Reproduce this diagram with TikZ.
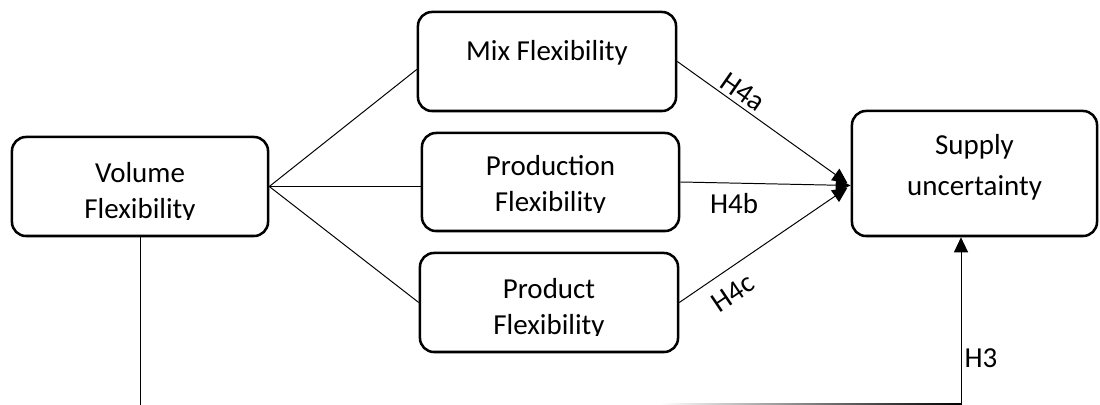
\documentclass[tikz,border=0pt]{standalone}
\usepackage{fontspec}
\setmainfont{Carlito}
\usetikzlibrary{arrows.meta,positioning}

\tikzset{
    box/.style={draw, line width=1.8pt, rounded corners=0.35cm,
        minimum width=6.45cm, minimum height=2.475cm},
    txt/.style={align=center, anchor=base, inner sep=0pt,
        font=\fontsize{20.6pt}{25.6pt}\selectfont},
    lbl/.style={inner sep=0pt, font=\fontsize{20.6pt}{25.6pt}\selectfont},
    link/.style={line width=0.7pt},
    arr/.style={link, -{Triangle[length=0.375cm, width=0.35cm]}}
}

\begin{document}
\begin{tikzpicture}[x=0.025cm, y=-0.025cm]
        \useasboundingbox (0,0) rectangle (1100,405);

        % the five constructs
        \node[box, minimum width=6.4cm] (vol) at (140,186.5) {};
        \node[box] (mix) at (547,61.5) {};
        \node[box, minimum width=6.425cm, minimum height=2.45cm] (prod) at (550.5,182) {};
        \node[box] (pdt) at (549,302.5) {};
        \node[box, minimum width=6.125cm, minimum height=3.125cm] (sup) at (974.5,173.5) {};

        % box texts (base = last line), lower lines cut off at the frame
        \begin{scope}
            \clip (12,137) rectangle (268,220);
            \node[txt] (voltxt) at (140,219) {Volume\\Flexibility};
        \end{scope}
        \node[txt] (mixtxt) at (547,61) {Mix Flexibility};
        \begin{scope}
            \clip (422,133) rectangle (679,213);
            \node[txt] (prodtxt) at (550.5,212) {Production\\Flexibility};
        \end{scope}
        \begin{scope}
            \clip (420,253) rectangle (678,336);
            \node[txt] (pdttxt) at (549,335) {Product\\Flexibility};
        \end{scope}
        \node[txt] (suptxt) at (974.5,196) {Supply\\[4pt]uncertainty};

        % volume flexibility to the three other flexibilities
        \draw[link] (vol.east) -- ([yshift=-0.2cm]mix.west);
        \draw[link] (vol.east) -- (vol.east -| prod.west);
        \draw[link] (vol.east) -- (pdt.west);

        % H4a-c into supply uncertainty
        \coordinate (hub) at ([yshift=-0.3cm]sup.west);
        \draw[arr, shorten >=0.1cm] (mix.east) -- (hub);
        \draw[arr] (prod.east) -- (hub);
        \draw[arr, shorten >=0.1cm] (pdt.east) -- (hub);

        \node[lbl, rotate=-35] (h4a) at (743,92) {H4a};
        \node[lbl] (h4b) at (734,204) {H4b};
        \node[lbl, rotate=34] (h4c) at (733,293) {H4c};

        % H3 runs along the bottom edge
        \coordinate (bend) at (961,405.8);
        \draw[arr] (vol.south) |- (bend) -- (bend |- sup.south);
        \shade[left color=white, right color=black] (660,403.4) rectangle (961,405);
        \node[lbl] (h3) at (981,358) {H3};

    \end{tikzpicture}
\end{document}
